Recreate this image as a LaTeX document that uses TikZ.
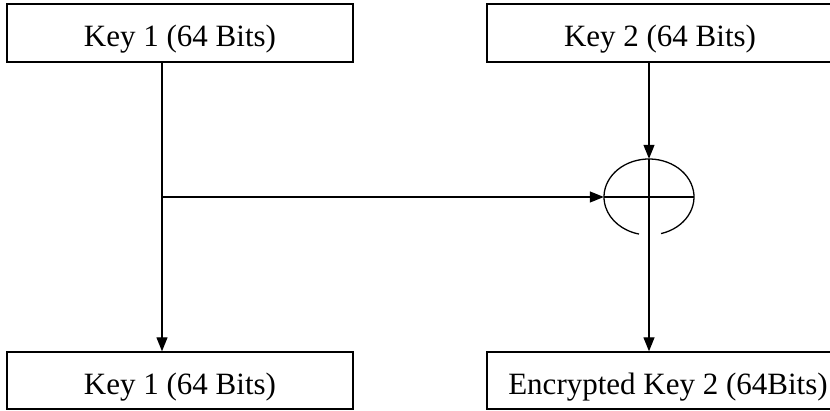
\documentclass[tikz,border=0pt]{standalone}
\usepackage{fontspec}
\setmainfont{Liberation Serif}
\usetikzlibrary{arrows.meta,shapes.geometric,calc}
\begin{document}
\begin{tikzpicture}[x=1pt,y=1pt,
  keybox/.style={draw,line width=1.4pt,rectangle,inner sep=0pt,
    minimum width=346pt,minimum height=58pt,text height=28pt,text depth=0pt,
    font=\fontsize{31}{36}\selectfont},
  conn/.style={line width=1.3pt},
  arr/.style={conn,-{Triangle[length=14pt,width=11pt]}}]
\useasboundingbox (0,0) rectangle (830,411);
\node[keybox] (k1top) at (180,378) {Key 1 (64 Bits)};
\node[keybox] (k2top) at (660,378) {Key 2 (64 Bits)};
\node[keybox,minimum height=57pt] (k1bot) at (180,30.5) {Key 1 (64 Bits)};
\node[keybox,minimum height=57pt,minimum width=362pt] (k2bot) at (668,30.5) {Encrypted Key 2 (64Bits)};
\node[ellipse,inner sep=0pt,minimum width=90pt,minimum height=76pt] (xor) at (649,214) {};
\coordinate (j) at (162,214);
% xor symbol: ellipse with a gap at the bottom, and cross
\draw[conn] ([shift={(285.5:45 and 38)}]xor.center) arc[start angle=285.5,end angle=617.2,x radius=45,y radius=38];
\draw[conn] (xor.west) -- (xor.east);
\draw[conn] (xor.north) -- (xor.south);
% connectors
\draw[arr] (k1top.south -| j) -- (k1bot.north -| j);
\draw[arr] (j) -- (xor.west);
\draw[arr] (k2top.south -| xor.north) -- (xor.north);
\draw[arr] (xor.south) -- (k2bot.north -| xor.south);
\end{tikzpicture}
\end{document}
